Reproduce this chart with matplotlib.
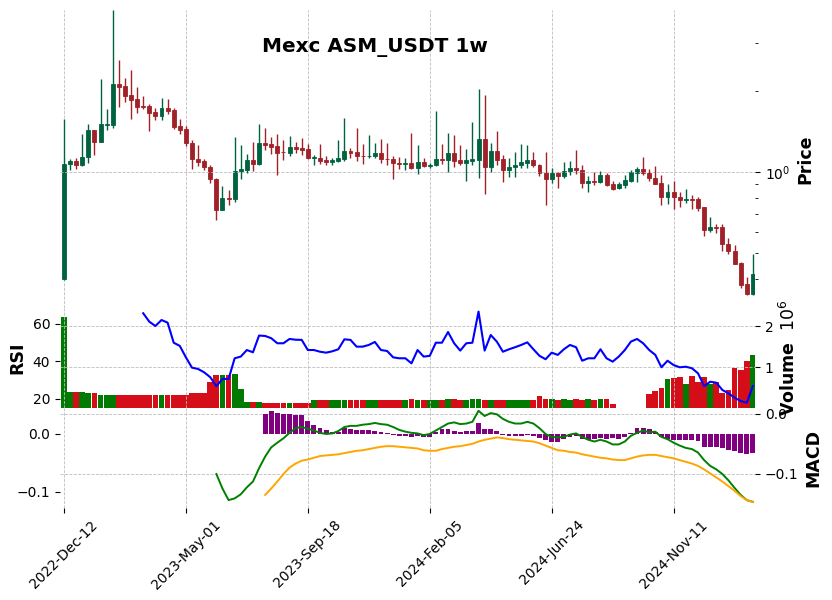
import numpy as np
import pandas as pd
import matplotlib
matplotlib.use('Agg')
import matplotlib.pyplot as plt
from matplotlib.ticker import FuncFormatter, NullFormatter

# Mexc ASM_USDT weekly candles
start_date = '2022-12-12'

opens = [0.401, 1.069, 1.104, 1.060, 1.135, 1.427, 1.291, 1.493, 1.493, 2.115,
         2.079, 1.925, 1.860, 1.752, 1.752, 1.664, 1.612, 1.722, 1.693, 1.476,
         1.439, 1.287, 1.123, 1.104, 1.048, 0.946, 0.726, 0.804, 0.797, 1.007,
         1.022, 1.113, 1.069, 1.284, 1.276, 1.254, 1.192, 1.182, 1.244, 1.233,
         1.223, 1.125, 1.132, 1.113, 1.094, 1.104, 1.123, 1.202, 1.192, 1.152,
         1.145, 1.145, 1.182, 1.123, 1.123, 1.085, 1.069, 1.078, 1.033, 1.094,
         1.051, 1.060, 1.123, 1.113, 1.182, 1.113, 1.078, 1.104, 1.113, 1.332,
         1.042, 1.202, 1.123, 1.016, 1.042, 1.060, 1.085, 1.113, 1.066, 0.996,
         0.940, 0.996, 0.965, 1.007, 1.039, 1.022, 0.909, 0.930, 0.922, 0.979,
         0.906, 0.871, 0.899, 0.930, 0.990, 1.024, 0.996, 0.954, 0.914, 0.806,
         0.846, 0.811, 0.786, 0.792, 0.792, 0.740, 0.608, 0.627, 0.627, 0.542,
         0.511, 0.461, 0.385, 0.353]
highs = [1.577, 1.120, 1.125, 1.379, 1.511, 1.435, 2.221, 1.708, 3.985, 2.597,
         2.240, 2.384, 2.074, 1.920, 1.793, 1.733, 1.887, 1.871, 1.722, 1.577,
         1.480, 1.317, 1.265, 1.120, 1.066, 0.950, 0.889, 0.859, 1.347, 1.258,
         1.169, 1.295, 1.511, 1.460, 1.355, 1.387, 1.317, 1.363, 1.295, 1.340,
         1.273, 1.162, 1.273, 1.152, 1.132, 1.310, 1.581, 1.233, 1.460, 1.273,
         1.375, 1.284, 1.328, 1.284, 1.152, 1.142, 1.132, 1.399, 1.262, 1.129,
         1.085, 1.689, 1.273, 1.399, 1.375, 1.262, 1.220, 1.528, 2.026, 1.936,
         1.284, 1.423, 1.162, 1.132, 1.192, 1.273, 1.262, 1.192, 1.075, 1.192,
         1.033, 1.000, 1.094, 1.104, 1.212, 1.064, 0.970, 1.002, 1.010, 0.996,
         0.930, 0.922, 0.979, 1.016, 1.045, 1.142, 1.030, 1.057, 0.976, 0.906,
         0.930, 0.841, 0.866, 0.825, 0.806, 0.744, 0.681, 0.644, 0.644, 0.571,
         0.538, 0.465, 0.408, 0.497]
lows = [0.398, 1.022, 1.028, 1.051, 1.082, 1.159, 1.288, 1.427, 1.460, 1.747,
        1.824, 1.577, 1.660, 1.718, 1.423, 1.564, 1.564, 1.646, 1.442, 1.387,
        1.247, 1.028, 1.051, 1.022, 0.912, 0.662, 0.724, 0.753, 0.775, 0.943,
        0.993, 1.010, 1.060, 1.212, 1.165, 0.973, 1.106, 1.145, 1.175, 1.155,
        1.122, 1.064, 1.069, 1.060, 1.060, 1.094, 1.104, 1.132, 1.097, 1.069,
        1.125, 1.132, 1.078, 1.060, 0.940, 1.024, 1.019, 1.024, 0.985, 1.042,
        1.033, 1.051, 1.069, 1.002, 1.042, 1.060, 0.924, 1.066, 0.948, 0.830,
        1.002, 1.060, 0.917, 0.957, 0.957, 1.033, 1.033, 1.042, 0.965, 0.755,
        0.909, 0.874, 0.948, 0.973, 0.985, 0.871, 0.841, 0.893, 0.912, 0.886,
        0.856, 0.866, 0.876, 0.922, 0.917, 0.976, 0.924, 0.901, 0.755, 0.762,
        0.730, 0.742, 0.766, 0.730, 0.717, 0.579, 0.602, 0.594, 0.509, 0.497,
        0.456, 0.371, 0.349, 0.351]
closes = [1.075, 1.104, 1.060, 1.142, 1.427, 1.291, 1.502, 1.502, 2.115, 2.067,
          1.913, 1.849, 1.741, 1.741, 1.654, 1.608, 1.722, 1.683, 1.464, 1.430,
          1.280, 1.116, 1.094, 1.042, 0.940, 0.726, 0.804, 0.797, 1.013, 1.030,
          1.113, 1.069, 1.284, 1.265, 1.244, 1.182, 1.185, 1.244, 1.223, 1.212,
          1.125, 1.135, 1.104, 1.094, 1.113, 1.132, 1.202, 1.182, 1.145, 1.145,
          1.152, 1.182, 1.116, 1.116, 1.078, 1.069, 1.078, 1.033, 1.094, 1.051,
          1.066, 1.123, 1.113, 1.182, 1.104, 1.078, 1.113, 1.123, 1.332, 1.042,
          1.202, 1.113, 1.016, 1.048, 1.066, 1.094, 1.113, 1.060, 0.990, 0.940,
          0.996, 0.965, 1.013, 1.039, 1.016, 0.909, 0.930, 0.922, 0.979, 0.899,
          0.868, 0.906, 0.938, 0.998, 1.024, 0.990, 0.948, 0.906, 0.806, 0.846,
          0.806, 0.786, 0.792, 0.786, 0.734, 0.608, 0.627, 0.622, 0.541, 0.508,
          0.458, 0.382, 0.353, 0.420]
# volume in millions
volume_m = [2.23, 0.39, 0.39, 0.39, 0.37, 0.37, 0.33, 0.33, 0.33, 0.31,
            0.31, 0.31, 0.33, 0.31, 0.31, 0.31, 0.33, 0.31, 0.31, 0.33,
            0.33, 0.38, 0.38, 0.38, 0.63, 0.80, 0.80, 0.80, 0.83, 0.46,
            0.15, 0.15, 0.15, 0.12, 0.12, 0.12, 0.12, 0.12, 0.12, 0.12,
            0.12, 0.20, 0.20, 0.20, 0.20, 0.20, 0.20, 0.19, 0.20, 0.20,
            0.20, 0.19, 0.20, 0.20, 0.20, 0.20, 0.20, 0.22, 0.20, 0.20,
            0.20, 0.20, 0.20, 0.22, 0.22, 0.20, 0.20, 0.22, 0.22, 0.20,
            0.20, 0.20, 0.20, 0.20, 0.20, 0.20, 0.20, 0.20, 0.29, 0.23,
            0.22, 0.20, 0.22, 0.20, 0.22, 0.20, 0.22, 0.20, 0.22, 0.22,
            0.10, 0.0, 0.0, 0.0, 0.0, 0.0, 0.34, 0.42, 0.49, 0.71,
            0.73, 0.76, 0.59, 0.78, 0.64, 0.76, 0.60, 0.64, 0.37, 0.44,
            0.98, 0.93, 1.15, 1.29]

# RSI(14) starts at week 13
rsi = [np.nan] * 13 + [
    65.7, 61.2, 58.9, 62.1, 60.7, 50.0, 48.3, 42.2, 36.7, 36.0,
    34.2, 31.6, 26.8, 30.7, 30.7, 41.7, 42.6, 46.1, 44.9, 53.8,
    53.6, 52.4, 49.7, 49.7, 52.0, 51.6, 51.5, 46.1, 46.1, 45.2,
    44.7, 45.4, 46.5, 51.8, 51.5, 47.9, 47.9, 48.8, 50.4, 46.1,
    45.6, 42.2, 41.7, 41.7, 39.0, 46.1, 42.6, 43.0, 50.0, 50.0,
    55.7, 49.7, 45.8, 49.7, 50.0, 66.6, 45.8, 54.1, 50.6, 45.2,
    46.5, 47.6, 48.8, 50.2, 46.5, 43.0, 41.2, 44.7, 43.5, 46.5,
    48.8, 47.6, 40.4, 41.7, 41.7, 46.5, 41.7, 39.9, 42.6, 46.1,
    50.6, 52.0, 49.7, 46.1, 43.5, 36.9, 40.4, 38.1, 36.9, 37.2,
    36.4, 33.7, 26.9, 29.2, 28.7, 24.8, 23.0, 20.7, 18.9, 18.0,
    26.9]

macd = [np.nan] * 25 + [
    -0.069, -0.094, -0.114, -0.111, -0.104, -0.092, -0.082, -0.059, -0.039, -0.023,
    -0.015, -0.0075, 0.002, 0.010, 0.012, 0.009, 0.006, 0.002, 0.000, 0.001,
    0.005, 0.012, 0.014, 0.014, 0.016, 0.017, 0.019, 0.017, 0.016, 0.012,
    0.007, 0.004, 0.002, 0.001, -0.002, 0.000, 0.006, 0.012, 0.018, 0.020,
    0.017, 0.018, 0.021, 0.040, 0.031, 0.036, 0.034, 0.026, 0.021, 0.018,
    0.018, 0.021, 0.018, 0.010, 0.000, -0.005, -0.006, -0.005, -0.001, 0.001,
    -0.005, -0.010, -0.013, -0.010, -0.013, -0.018, -0.018, -0.013, -0.003, 0.002,
    0.006, 0.003, 0.004, -0.005, -0.009, -0.015, -0.020, -0.024, -0.026, -0.032,
    -0.045, -0.055, -0.061, -0.069, -0.080, -0.093, -0.105, -0.114, -0.117]

signal = [np.nan] * 33 + [
    -0.105, -0.094, -0.082, -0.069, -0.058, -0.051, -0.046, -0.044, -0.041, -0.038,
    -0.037, -0.036, -0.035, -0.033, -0.031, -0.029, -0.028, -0.026, -0.024, -0.022,
    -0.021, -0.021, -0.022, -0.023, -0.024, -0.025, -0.028, -0.029, -0.029, -0.026,
    -0.024, -0.022, -0.021, -0.019, -0.017, -0.013, -0.010, -0.008, -0.006, -0.007,
    -0.009, -0.010, -0.011, -0.012, -0.013, -0.016, -0.020, -0.024, -0.028, -0.029,
    -0.031, -0.032, -0.035, -0.037, -0.039, -0.041, -0.042, -0.044, -0.045, -0.045,
    -0.042, -0.039, -0.037, -0.036, -0.036, -0.038, -0.040, -0.042, -0.045, -0.048,
    -0.051, -0.055, -0.061, -0.068, -0.075, -0.082, -0.090, -0.098, -0.107, -0.114,
    -0.117]

macd_hist = [np.nan] * 33 + [
    0.034, 0.040, 0.037, 0.034, 0.034, 0.033, 0.032, 0.022, 0.016, 0.011,
    0.007, 0.003, 0.004, 0.010, 0.009, 0.007, 0.007, 0.007, 0.006, 0.004,
    0.002, -0.001, -0.003, -0.004, -0.006, -0.004, -0.005, -0.005, 0.003, 0.009,
    0.009, 0.005, 0.004, 0.005, 0.005, 0.019, 0.009, 0.009, 0.006, -0.001,
    -0.004, -0.004, -0.004, -0.001, -0.003, -0.007, -0.010, -0.013, -0.013, -0.009,
    -0.005, -0.003, -0.009, -0.010, -0.009, -0.007, -0.009, -0.007, -0.009, -0.006,
    0.001, 0.010, 0.010, 0.008, 0.004, -0.005, -0.009, -0.010, -0.010, -0.011,
    -0.010, -0.012, -0.022, -0.023, -0.022, -0.025, -0.028, -0.030, -0.033, -0.035,
    -0.032]

UP, DOWN = '#006340', '#a02128'
VOL_UP, VOL_DOWN = '#007a00', '#d50d18'
GRID = '#bdbdbd'
LABEL_SIZE = 12.5


def style_axes(ax):
    for sp in ax.spines.values():
        sp.set_visible(False)
    ax.tick_params(labelsize=10, colors='black')


o, h, l, c = map(np.array, (opens, highs, lows, closes))
volumes = np.array(volume_m) * 1e6
x = np.arange(len(c))
dates = pd.date_range(start_date, periods=len(c), freq='W-MON')
candle_colors = np.where(c >= o, UP, DOWN)
vol_colors = np.where(c >= o, VOL_UP, VOL_DOWN)

fig = plt.figure(figsize=(8.32, 6.0), dpi=100)
ax_l, ax_w = 60 / 832, 695 / 832
ax_price = fig.add_axes([ax_l, 292 / 600, ax_w, 298 / 600])
ax_vol = fig.add_axes([ax_l, 192 / 600, ax_w, 100 / 600], sharex=ax_price)
ax_rsi = ax_vol.twinx()
ax_mgrid = fig.add_axes([ax_l, 92 / 600, ax_w, 100 / 600], sharex=ax_price)
ax_macd = ax_mgrid.twinx()
for ax in (ax_price, ax_vol, ax_rsi, ax_mgrid, ax_macd):
    style_axes(ax)

# price panel
ax_price.set_yscale('log')
ax_price.vlines(x, l, h, colors=candle_colors, linewidth=1.0)
ax_price.bar(x, np.abs(c - o), bottom=np.minimum(o, c), width=0.65,
             color=candle_colors, edgecolor=candle_colors, linewidth=0.6)
ax_price.set_ylim(0.3134, 3.99)
ax_price.set_xlim(-0.65, 113.35)
ax_price.yaxis.tick_right()
ax_price.yaxis.set_minor_formatter(NullFormatter())
ax_price.yaxis.set_label_position('right')
ax_price.set_ylabel('Price', fontsize=LABEL_SIZE, fontweight='bold')
ax_price.yaxis.set_label_coords(1.059, 0.5)
ax_price.grid(True, which='major', linestyle='--', color=GRID, linewidth=0.6)
ax_price.tick_params(axis='x', bottom=False, labelbottom=False)

# volume + rsi panel
ax_vol.bar(x, volumes, width=0.95, color=vol_colors)
ax_vol.set_ylim(0, 1.1 * volumes.max())
ax_vol.set_yticks([1e6, 2e6])
ax_vol.yaxis.set_major_formatter(FuncFormatter(lambda v, p: f'{v / 1e6:g}'))
ax_vol.yaxis.tick_right()
ax_vol.yaxis.set_label_position('right')
ax_vol.set_ylabel('Volume  $10^{6}$', fontsize=LABEL_SIZE, fontweight='bold')
ax_vol.yaxis.set_label_coords(1.035, 0.5)
ax_vol.grid(True, linestyle='--', color=GRID, linewidth=0.6)
ax_vol.tick_params(axis='x', bottom=False, labelbottom=False)

ax_rsi.plot(x, rsi, color='blue', linewidth=1.5)
ax_rsi.set_ylim(15.2, 68.5)
ax_rsi.set_yticks([20, 40, 60])
ax_rsi.yaxis.tick_left()
ax_rsi.yaxis.set_label_position('left')
ax_rsi.set_ylabel('RSI', fontsize=LABEL_SIZE, fontweight='bold')
ax_rsi.yaxis.set_label_coords(-0.049, 0.5)

# macd panel
ax_mgrid.set_ylim(-0.1567, 0.01)
ax_mgrid.set_yticks([-0.1, 0.0])
ax_mgrid.yaxis.tick_right()
ax_mgrid.yaxis.set_label_position('right')
ax_mgrid.set_ylabel('MACD', fontsize=LABEL_SIZE, fontweight='bold')
ax_mgrid.yaxis.set_label_coords(1.071, 0.5)
ax_mgrid.grid(True, linestyle='--', color=GRID, linewidth=0.6)

ax_macd.bar(x, macd_hist, width=0.8, color='purple')
ax_macd.plot(x, macd, color='green', linewidth=1.4)
ax_macd.plot(x, signal, color='orange', linewidth=1.4)
ax_macd.set_ylim(-0.1276, 0.0448)
ax_macd.set_yticks([-0.1, 0.0])
ax_macd.yaxis.tick_left()

tick_pos = np.arange(0, len(c), 20)
ax_mgrid.set_xticks(tick_pos)
ax_mgrid.set_xticklabels([dates[i].strftime('%Y-%b-%d') for i in tick_pos],
                         rotation=45, fontsize=10)

fig.text(0.4501, 0.9128, 'Mexc ASM_USDT 1w', ha='center', va='baseline',
         fontsize=14.4, fontweight='bold')

fig.savefig('out.png', dpi=100)
